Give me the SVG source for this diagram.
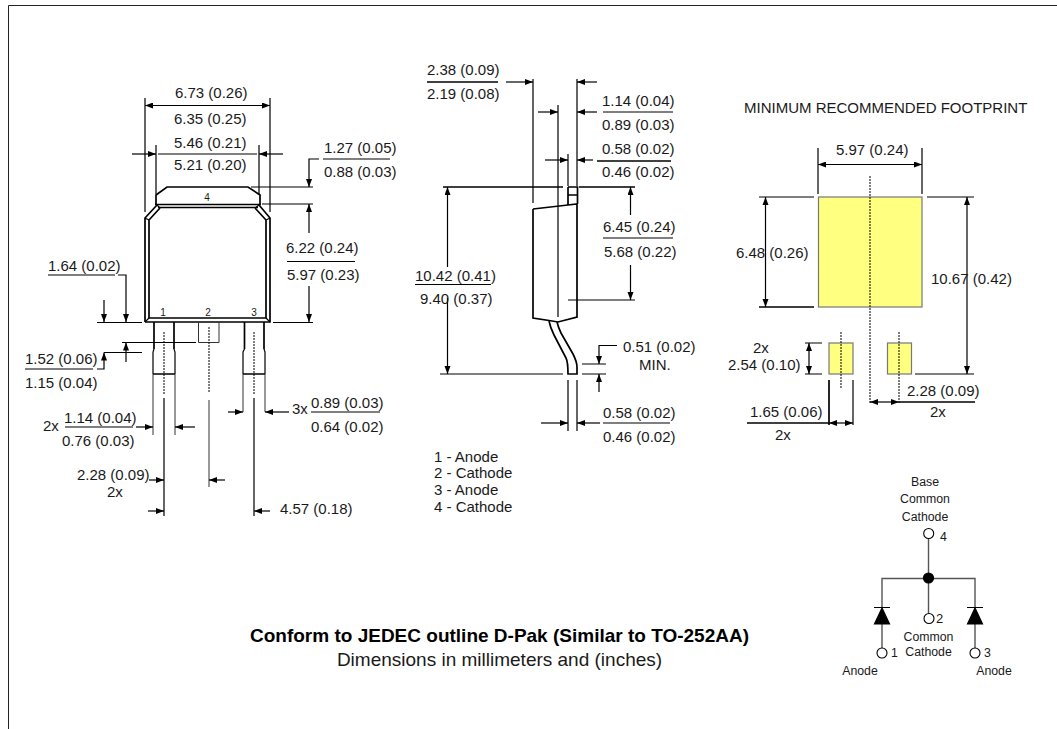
<svg xmlns="http://www.w3.org/2000/svg" width="1057" height="729" viewBox="0 0 1057 729">
<style>
text{font-family:"Liberation Sans",Arial,sans-serif;font-size:15px;fill:#1a1a1a}
.m{text-anchor:middle}
.s{font-size:10px}
.c{font-size:12.3px}
.t{font-size:15px}
.b{font-size:19px}
.bb{font-weight:bold;fill:#000}
path,line,rect,circle{stroke:#000;fill:none;stroke-width:1.2}
.a{marker-end:url(#ah)}
.d{marker-start:url(#ahs);marker-end:url(#ah)}
.th{stroke-width:1.7}
.g{stroke:#333;stroke-width:1}
.cl{stroke-dasharray:2 1;stroke-width:1}
.pad{fill:#ffff80;stroke:#777;stroke-width:1.2}
.o{fill:#fff;stroke:#000;stroke-width:1.1}
.sch{stroke:#555;stroke-width:1.4}
</style>
<defs>
<marker id="ah" markerUnits="userSpaceOnUse" markerWidth="9" markerHeight="7" refX="8" refY="3" orient="auto"><path d="M0,0L8,3L0,6z" style="fill:#000;stroke:none"/></marker>
<marker id="ahs" markerUnits="userSpaceOnUse" markerWidth="9" markerHeight="7" refX="0" refY="3" orient="auto"><path d="M8,0L0,3L8,6z" style="fill:#000;stroke:none"/></marker>
</defs>
<path id="frame" d="M1057,5.500H8.500V729" style="stroke:#222;stroke-width:1"/>

<g id="front-view">
<path class="th" d="M156,204V195L167,187H248L260,195V204"/>
<path class="th" d="M155,204.500H261M158,207.500H258"/>
<path class="th" d="M145,322V218L157,205M259,205L270,218V322H145"/>
<path class="th" d="M149,318V220L160,208M255,208L266,220V318H149"/>
<path d="M145,218L149,220M157,205L160,208M259,205L255,208M270,218L266,220M145,322L149,318M270,322L266,318"/>
<path class="th" d="M154,322V349M174,322V349M244.500,322V349M264,322V349"/>
<path d="M154,349L153,352V374M174,349L175,352V374M244.500,349L243,352V374M264,349L265,352V374"/>
<path class="th" d="M153,374H175M243,374H265"/>
<path class="g" d="M198.500,322V342.500H219V322"/>
<text class="s m" x="163" y="316">1</text><text class="s m" x="208" y="316">2</text><text class="s m" x="254" y="316">3</text><text class="s m" x="207" y="201">4</text>
</g>

<g id="connectors">
<path d="M145,98V212M270,98V212"/>
<path class="d" d="M145,105.500H270"/>
<path d="M156,145V194M259,145V194M158,154H257"/>
<path class="a" d="M132,154H156"/><path class="a" d="M283,154H259"/>
<path d="M323,159H390"/>
<path class="a" d="M319,159H309V187"/>
<path d="M251,187H313M262,204H313"/>
<path class="a" d="M309,233V204"/><path class="a" d="M309,286V322"/>
<path d="M287,261.500H355M273,322.500H313M97,322.500H142"/>
<path d="M48,275H115"/>
<path class="a" d="M118,275H126V322"/><path class="a" d="M104,300V322"/>

<path class="cl" d="M164,332V394M209,327V393M254,332V394"/>
<path d="M164,398V516M254,398V516"/>
<path class="g" d="M209,400V487"/>
<path d="M122,342.500H196M104,352.500H142M25,369H93"/>
<path class="a" d="M126,362V342.500"/>
<path class="a" d="M97,369H104V352.500"/>
<path class="g" d="M153,374V435M175,374V435M243,374V412M265,374V412"/>
<path d="M311,412H380M65,427H133"/>
<path class="a" d="M228,412H243"/><path class="a" d="M289,412H265"/>
<path class="a" d="M136,427H153"/><path class="a" d="M195,427H175"/>
<path class="a" d="M149,480H164"/><path class="a" d="M225,480H209"/>
<path class="a" d="M148,511H164"/><path class="a" d="M270,511H254"/>

<path class="th" d="M427,82H498"/>
<path class="a" d="M506,82H533"/><path class="a" d="M597,82H577"/>
<path d="M533,79V203M577,79V186M558,105V317"/>
<path d="M603,112H673"/>
<path class="a" d="M538,112H558"/><path class="a" d="M597,112H577"/>
<path class="th" d="M597,161H671"/>
<path class="a" d="M545,160H568"/><path class="a" d="M593,160H577"/>
<path d="M568,154V186"/>
<path class="th" d="M443,187H563M579,187H635"/>
<path d="M440,374H563"/>
<path class="a" d="M447.500,267V187"/><path class="a" d="M447.500,298V374"/>
<path d="M415,284.500H491"/>
<path d="M603,238H673"/>
<path class="a" d="M630.500,215V187"/><path class="a" d="M630.500,265V300"/>
<path d="M568,300H635"/>
<path class="a" d="M617,345.500H599V364"/>
<path d="M582,364H606M582,374H606"/>
<path class="a" d="M599,392V374"/>
<path d="M568,380V431M577,380V431"/>
<path class="a" d="M541,423H568"/><path class="a" d="M600,423H577"/>
<path d="M603,423H670"/>

<path d="M818,148V194M922,148V194"/>
<path class="d" d="M818,164.500H922"/>
<path d="M759,197H814M927,197H974"/>
<path style="stroke-width:1.6" d="M759,307H814"/>
<path d="M915,374H974"/>
<path class="d" d="M765.500,197V307"/>
<path class="d" d="M967,197V374"/>
<path d="M805,343H822M805,374H822"/>
<path class="d" d="M809,343V374"/>
<path class="th" d="M829,380V425"/><path d="M853,380V425"/>
<path class="th" d="M747,423H829"/>
<path class="d" d="M829,423H853"/>
<path class="th" d="M899,402H975"/>
<path class="d" d="M870,402H899"/>
</g>

<g id="side-view">
<path class="th" d="M533,209L568,205L577,204V317L558,322L549,320.500L533,318V209"/>
<path class="th" d="M568,187H577.500V204M568,187V205M568,195H577"/>
<path class="th" d="M549,321C550,326 552,331 554,335L566,358C568,362 568,368 568,374H577V367C577,362 575,358 573,354L561,333C559,329 558,326 557,322"/>
</g>

<g id="footprint">
<rect class="pad" x="818.500" y="197" width="103.500" height="110"/>
<rect class="pad" x="829" y="343" width="24" height="31"/>
<rect class="pad" x="887.500" y="343" width="24" height="31"/>
<path class="cl" d="M870,176V403M841,332V388M899,332V403"/>
</g>

<g id="schematic">
<path class="sch" d="M928.500,539V578M882,608V578.500H975V608M928.500,578V613M882,624V648M975,624V648"/>
<path d="M874,607.500H890M967,607.500H983"/>
<path d="M882,608L874.500,624H889.500Z M975,608L967.500,624H982.500Z" style="fill:#000"/>
<circle cx="928.500" cy="578" r="5" style="fill:#000"/>
<circle class="o" cx="928.700" cy="533.500" r="5"/>
<circle class="o" cx="929" cy="618.500" r="5"/>
<circle class="o" cx="882" cy="653" r="5"/>
<circle class="o" cx="975" cy="653" r="5"/>
<text class="c m" x="925" y="486">Base</text>
<text class="c m" x="925" y="503">Common</text>
<text class="c m" x="925" y="521">Cathode</text>
<text class="c" x="940" y="541">4</text>
<text class="c" x="936" y="623" style="font-size:13px">2</text>
<text class="c" x="891" y="657">1</text>
<text class="c" x="984" y="657">3</text>
<text class="c m" x="928.500" y="641">Common</text>
<text class="c m" x="928.500" y="656">Cathode</text>
<text class="c m" x="860" y="675">Anode</text>
<text class="c m" x="994" y="675">Anode</text>
</g>

<g id="labels">
<text x="175" y="98">6.73 (0.26)</text>
<text x="174" y="124">6.35 (0.25)</text>
<text x="174" y="148">5.46 (0.21)</text>
<text x="174" y="170">5.21 (0.20)</text>
<text x="324" y="153">1.27 (0.05)</text>
<text x="324" y="177">0.88 (0.03)</text>
<text x="286" y="253">6.22 (0.24)</text>
<text x="287" y="280">5.97 (0.23)</text>
<text x="48" y="271">1.64 (0.02)</text>
<text x="25" y="364">1.52 (0.06)</text>
<text x="25" y="388">1.15 (0.04)</text>
<text x="292" y="414">3x</text>
<text x="311" y="408">0.89 (0.03)</text>
<text x="311" y="432">0.64 (0.02)</text>
<text x="43" y="431">2x</text>
<text x="64" y="423">1.14 (0.04)</text>
<text x="62" y="446">0.76 (0.03)</text>
<text x="77" y="480">2.28 (0.09)</text>
<text x="107" y="497">2x</text>
<text x="280" y="514">4.57 (0.18)</text>
<text x="427" y="75">2.38 (0.09)</text>
<text x="427" y="99">2.19 (0.08)</text>
<text x="602" y="106">1.14 (0.04)</text>
<text x="602" y="130">0.89 (0.03)</text>
<text x="602" y="154">0.58 (0.02)</text>
<text x="602" y="177">0.46 (0.02)</text>
<text x="603" y="232">6.45 (0.24)</text>
<text x="604" y="257">5.68 (0.22)</text>
<text x="415" y="281">10.42 (0.41)</text>
<text x="420" y="304">9.40 (0.37)</text>
<text x="623" y="352">0.51 (0.02)</text>
<text x="639" y="370">MIN.</text>
<text x="603" y="418">0.58 (0.02)</text>
<text x="603" y="442">0.46 (0.02)</text>
<text x="434" y="462">1 - Anode</text>
<text x="434" y="478">2 - Cathode</text>
<text x="434" y="495">3 - Anode</text>
<text x="434" y="512">4 - Cathode</text>
<text class="t" x="744" y="113">MINIMUM RECOMMENDED FOOTPRINT</text>
<text x="836" y="155">5.97 (0.24)</text>
<text x="736" y="258">6.48 (0.26)</text>
<text x="931" y="284">10.67 (0.42)</text>
<text x="753" y="353">2x</text>
<text x="728" y="370">2.54 (0.10)</text>
<text x="750" y="417">1.65 (0.06)</text>
<text x="775" y="440">2x</text>
<text x="907" y="396">2.28 (0.09)</text>
<text x="930" y="417">2x</text>
<text class="b bb m" x="499.500" y="642">Conform to JEDEC outline D-Pak (Similar to TO-252AA)</text>
<text class="b m" x="499.500" y="666">Dimensions in millimeters and (inches)</text>
</g>
</svg>
